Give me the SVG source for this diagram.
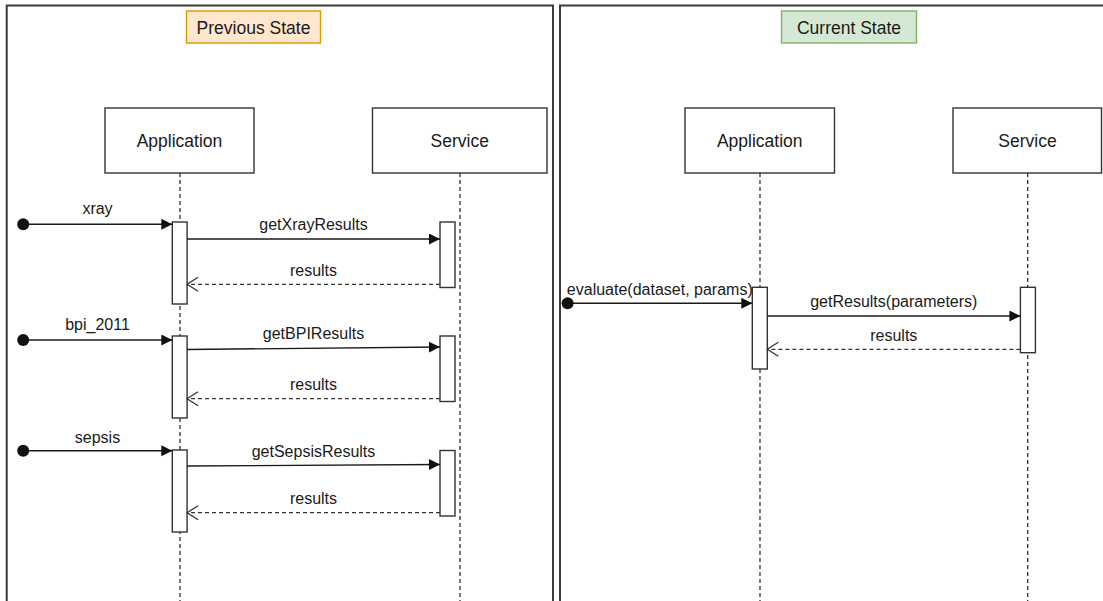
<svg xmlns="http://www.w3.org/2000/svg" width="1103" height="601" viewBox="0 0 1103 601">
  <style>
    text { font-family: "Liberation Sans", Arial, Helvetica, sans-serif; fill: #1a1a1a; }
    .head { font-size: 17.5px; text-anchor: middle; }
    .lbl { font-size: 16px; text-anchor: middle; }
    .frame { fill: none; stroke: #3a3a3a; stroke-width: 2; }
    .box { fill: #ffffff; stroke: #333333; stroke-width: 1.4; }
    .act { fill: #ffffff; stroke: #333333; stroke-width: 1.4; }
    .life { fill: none; stroke: #333333; stroke-width: 1.3; stroke-dasharray: 4 3; }
    .call { fill: none; stroke: #1a1a1a; stroke-width: 1.4; marker-start: url(#dot); marker-end: url(#block); }
    .msg { fill: none; stroke: #1a1a1a; stroke-width: 1.4; marker-end: url(#block); }
    .ret { fill: none; stroke: #333333; stroke-width: 1.3; stroke-dasharray: 4 3; marker-end: url(#open); }
  </style>
  <defs>
    <marker id="block" markerUnits="userSpaceOnUse" markerWidth="12" markerHeight="12" refX="11" refY="5.5" orient="auto">
      <path d="M0,0 L11,5.5 L0,11 z" fill="#111111"/>
    </marker>
    <marker id="open" markerUnits="userSpaceOnUse" markerWidth="14" markerHeight="16" refX="11.5" refY="7.5" orient="auto">
      <path d="M0.5,0.5 L11.5,7.5 L0.5,14.5" fill="none" stroke="#333333" stroke-width="1.3"/>
    </marker>
    <marker id="dot" markerUnits="userSpaceOnUse" markerWidth="14" markerHeight="14" refX="7" refY="7" orient="auto">
      <circle cx="7" cy="7" r="6" fill="#111111"/>
    </marker>
  </defs>

  <rect x="0" y="0" width="1103" height="601" fill="#ffffff"/>

  <!-- Left panel: previous state -->
  <g id="frame-previous">
    <path class="frame" d="M6.7,606 V5.5 H553 V606"/>
  </g>
  <g id="title-previous">
    <rect x="186.5" y="11" width="134" height="32" fill="#ffe6cc" stroke="#d79b00" stroke-width="1.4"/>
    <text class="head" x="253.5" y="33.5">Previous State</text>
  </g>

  <g id="prev-application">
    <line class="life" x1="180" y1="173" x2="180" y2="601"/>
    <rect class="box" x="105" y="108" width="149" height="65"/>
    <text class="head" x="179.5" y="147">Application</text>
  </g>
  <g id="prev-service">
    <line class="life" x1="460" y1="173" x2="460" y2="601"/>
    <rect class="box" x="372.5" y="108" width="174.5" height="65"/>
    <text class="head" x="459.7" y="147">Service</text>
  </g>

  <g id="prev-activations">
    <rect class="act" x="172.3" y="222" width="14.8" height="82"/>
    <rect class="act" x="172.3" y="336" width="14.8" height="82"/>
    <rect class="act" x="172.3" y="450" width="14.8" height="82"/>
    <rect class="act" x="440" y="222" width="15" height="65.5"/>
    <rect class="act" x="440" y="336" width="15" height="65.5"/>
    <rect class="act" x="440" y="450.5" width="15" height="65.5"/>
  </g>

  <!-- Right panel: current state -->
  <g id="frame-current">
    <path class="frame" d="M560,606 V5.5 H1106"/>
  </g>
  <g id="title-current">
    <rect x="781.5" y="11" width="135" height="32" fill="#d5e8d4" stroke="#82b366" stroke-width="1.4"/>
    <text class="head" x="849" y="33.5">Current State</text>
  </g>

  <g id="curr-application">
    <line class="life" x1="760" y1="173" x2="760" y2="601"/>
    <rect class="box" x="685" y="108" width="149.5" height="65"/>
    <text class="head" x="759.7" y="147">Application</text>
  </g>
  <g id="curr-service">
    <line class="life" x1="1027.7" y1="173" x2="1027.7" y2="601"/>
    <rect class="box" x="953" y="108" width="148.5" height="65"/>
    <text class="head" x="1027.5" y="147">Service</text>
  </g>

  <g id="curr-activations">
    <rect class="act" x="752.3" y="287.3" width="15" height="81.7"/>
    <rect class="act" x="1020.4" y="287.3" width="15" height="65.4"/>
  </g>

  <!-- Messages -->
  <g id="connectors">
    <path class="call" d="M23.2,224.3 H172.3"/>
    <path class="msg" d="M187.1,239 L440,239"/>
    <path class="ret" d="M440,284.3 L187.1,284.3"/>

    <path class="call" d="M23.2,340 H172.3"/>
    <path class="msg" d="M187.1,349.5 L440,347"/>
    <path class="ret" d="M440,398.7 L187.1,398.7"/>

    <path class="call" d="M23.2,450.7 H172.3"/>
    <path class="msg" d="M187.1,466 L440,464.5"/>
    <path class="ret" d="M440,512.7 L187.1,512.7"/>

    <path class="call" d="M567.6,303.3 H752.3"/>
    <path class="msg" d="M767.3,316 L1020.4,316"/>
    <path class="ret" d="M1020.4,349.3 L767.3,349.3"/>
  </g>

  <g id="labels">
    <text class="lbl" x="97.5" y="214">xray</text>
    <text class="lbl" x="313.5" y="230">getXrayResults</text>
    <text class="lbl" x="313.5" y="276">results</text>

    <text class="lbl" x="97.5" y="330">bpi_2011</text>
    <text class="lbl" x="313.5" y="339">getBPIResults</text>
    <text class="lbl" x="313.5" y="390">results</text>

    <text class="lbl" x="97.5" y="442.5">sepsis</text>
    <text class="lbl" x="313.5" y="456.5">getSepsisResults</text>
    <text class="lbl" x="313.5" y="504">results</text>

    <text class="lbl" x="659.8" y="295">evaluate(dataset, params)</text>
    <text class="lbl" x="893.8" y="307">getResults(parameters)</text>
    <text class="lbl" x="893.8" y="341">results</text>
  </g>
</svg>
